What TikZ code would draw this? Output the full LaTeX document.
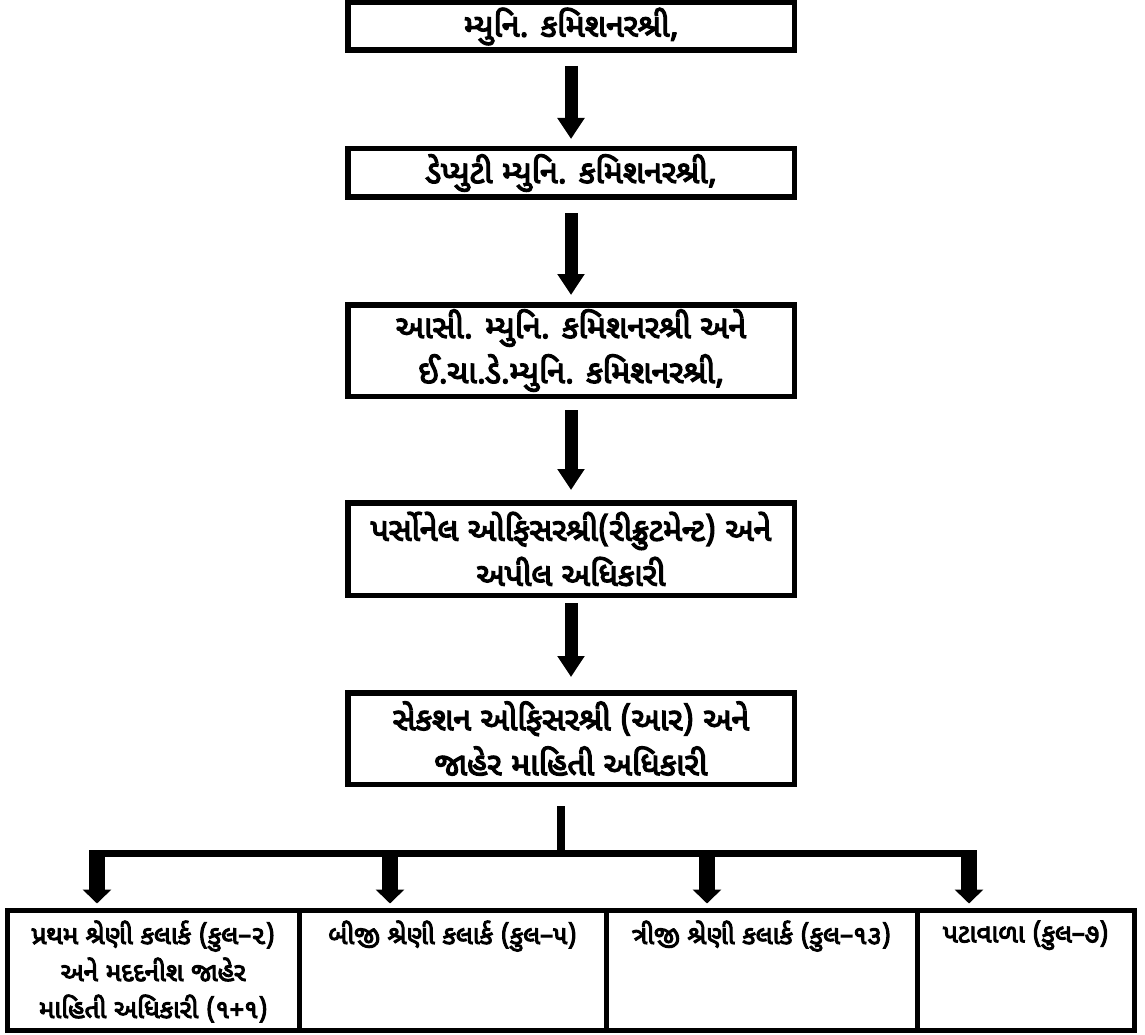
\documentclass[tikz,border=0pt]{standalone}
\usepackage{fontspec}
\newfontfamily\guj[Script=Gujarati,AutoFakeBold=4]{Noto Sans Gujarati UI}
\usetikzlibrary{arrows.meta}
\begin{document}
\begin{tikzpicture}[x=1pt,y=-1pt,
  topbox/.style={draw,line width=5.5pt,inner sep=0pt,minimum width=446.5pt,minimum height=#1,align=center,
    font=\guj\bfseries\fontsize{32}{45}\selectfont},
  botbox/.style={draw,line width=5pt,inner sep=0pt,minimum height=120.5pt},
  bottext/.style={anchor=north,inner sep=0pt,align=center,font=\guj\bfseries\fontsize{26}{37}\selectfont},
  bigarrow/.style={line width=13pt,-{Triangle[width=26pt,length=21pt]}},
  smallarrow/.style={line width=16pt,-{Triangle[width=28pt,length=14pt]}},
  bar/.style={line width=#1}
]
\useasboundingbox (0,0) rectangle (1145,1035);

\node[topbox=47.5pt] (t1) at (571,26.5) {મ્યુનિ. કમિશનરશ્રી,};
\node[topbox=48.5pt] (t2) at (571,173) {ડેપ્યુટી મ્યુનિ. કમિશનરશ્રી,};
\node[topbox=91.5pt] (t3) at (571,350.5) {આસી. મ્યુનિ. કમિશનરશ્રી અને\\ઈ.ચા.ડે.મ્યુનિ. કમિશનરશ્રી,};
\node[topbox=92.5pt] (t4) at (571,549) {પર્સોનેલ ઓફિસરશ્રી(રીક્રુટમેન્ટ) અને\\અપીલ અધિકારી};
\node[topbox=91.5pt] (t5) at (571,738.5) {સેકશન ઓફિસરશ્રી (આર) અને\\જાહેર માહિતી અધિકારી};

\draw[bigarrow] ([yshift=-13pt]t1.south) -- ([yshift=7pt]t2.north);
\draw[bigarrow] ([yshift=-13pt]t2.south) -- ([yshift=7pt]t3.north);
\draw[bigarrow] ([yshift=-11pt]t3.south) -- ([yshift=10pt]t4.north);
\draw[bigarrow] ([yshift=-5pt]t4.south) -- ([yshift=13pt]t5.north);

\node[botbox,minimum width=291.5pt] (c1) at (153.25,970.25) {};
\node[botbox,minimum width=307pt] (c2) at (452.5,970.25) {};
\node[botbox,minimum width=311pt] (c3) at (761.5,970.25) {};
\node[botbox,minimum width=217.5pt] (c4) at (1025.75,970.25) {};

\node[bottext] (l1) at ([yshift=-13pt]c1.north) {પ્રથમ શ્રેણી કલાર્ક (કુલ–૨)\\અને મદદનીશ જાહેર\\માહિતી અધિકારી (૧+૧)};
\node[bottext] (l2) at ([yshift=-13pt]c2.north) {બીજી શ્રેણી કલાર્ક (કુલ–૫)};
\node[bottext] (l3) at ([yshift=-13pt]c3.north) {ત્રીજી શ્રેણી કલાર્ક (કુલ–૧૩)};
\node[bottext] (l4) at ([yshift=-13pt]c4.north) {પટાવાળા (કુલ–૭)};

\coordinate (jt) at (561,806);
\coordinate (j) at (561,853.5);
\coordinate (h1) at (97,853.5);
\coordinate (h2) at (390,853.5);
\coordinate (h3) at (707,853.5);
\coordinate (h4) at (969,853.5);

\draw[bar=8pt] (jt) -- ([yshift=-3.5pt]j);
\draw[bar=7pt] ([xshift=-8pt]h1) -- ([xshift=8pt]h4);
\draw[smallarrow] (h1) -- ([yshift=4pt]h1 |- c1.north);
\draw[smallarrow] (h2) -- ([yshift=4pt]h2 |- c2.north);
\draw[smallarrow] (h3) -- ([yshift=4pt]h3 |- c3.north);
\draw[smallarrow] (h4) -- ([yshift=4pt]h4 |- c4.north);
\end{tikzpicture}
\end{document}
